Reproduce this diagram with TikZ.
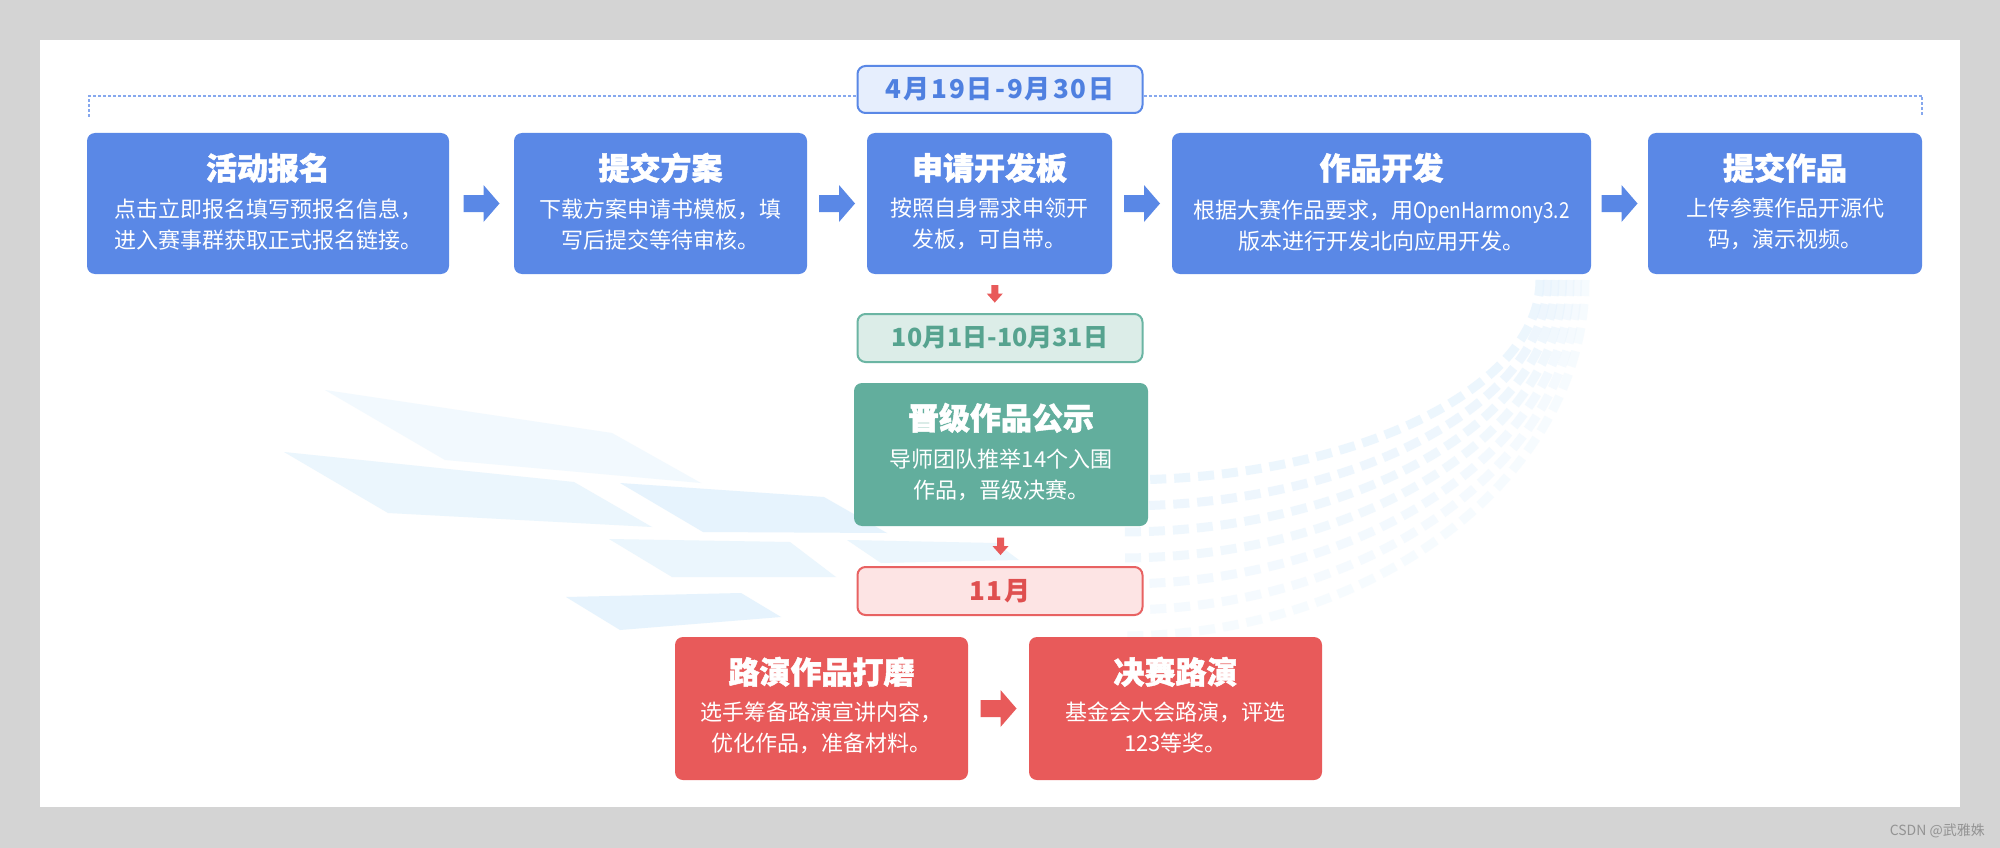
\documentclass[tikz,border=0pt]{standalone}
\usepackage{fontspec}
\setmainfont{Noto Sans CJK SC}
\newfontfamily\datefont{Noto Sans CJK SC}[LetterSpace=8]
\newfontfamily\datefontB{Noto Sans CJK SC}
\newfontfamily\titlefont{Noto Sans CJK SC}[FakeBold=1.5]
\usetikzlibrary{calc}
\definecolor{bggrey}{HTML}{D4D4D4}
\definecolor{cblue}{HTML}{5A88E6}
\definecolor{cbluefill}{HTML}{E6EEFD}
\definecolor{cbluetext}{HTML}{4F80E0}
\definecolor{cdash}{HTML}{86A8EE}
\definecolor{cgreen}{HTML}{62AE9D}
\definecolor{cgreenfill}{HTML}{DCEDE8}
\definecolor{cgreenline}{HTML}{6BB5A3}
\definecolor{cgreentext}{HTML}{56A38F}
\definecolor{cred}{HTML}{E85A5A}
\definecolor{credfill}{HTML}{FDE4E4}
\definecolor{credline}{HTML}{E86262}
\definecolor{credtext}{HTML}{DF4F4F}
\definecolor{tileA}{HTML}{F2F9FE}
\definecolor{tileB}{HTML}{EBF6FD}
\definecolor{tileC}{HTML}{E6F3FD}
\newcommand\blockarrow[2]{%
  \fill[#1] ([shift={(-18,-8.5)}]#2) -- ([shift={(2,-8.5)}]#2) -- ([shift={(2,-18.5)}]#2) --
    ([shift={(18,0)}]#2) -- ([shift={(2,18.5)}]#2) -- ([shift={(2,8.5)}]#2) --
    ([shift={(-18,8.5)}]#2) -- cycle;}
\newcommand\smalldown[2]{%
  \fill[#1] ([shift={(-3.5,-8.5)}]#2) -- ([shift={(3.5,-8.5)}]#2) -- ([shift={(3.5,0)}]#2) --
    ([shift={(8,0)}]#2) -- ([shift={(0,9)}]#2) -- ([shift={(-8,0)}]#2) --
    ([shift={(-3.5,0)}]#2) -- cycle;}
\tikzset{
  box/.style={rounded corners=8pt, inner sep=0pt, minimum height=141pt},
  bluebox/.style={box, fill=cblue},
  greenbox/.style={box, fill=cgreen, minimum height=143pt},
  redbox/.style={box, fill=cred, minimum height=143pt},
  ttl/.style={text=white, font=\titlefont\fontsize{31}{36}\selectfont\bfseries, inner sep=0pt},
  dsc/.style={text=white, font=\fontsize{22}{31}\selectfont, align=center, inner sep=0pt},
  datebox/.style={rounded corners=8pt, line width=2pt, minimum width=285pt, minimum height=47pt,
    inner sep=0pt, font=\datefont\fontsize{26}{30}\selectfont\bfseries},
  dashline/.style={cdash, line width=2pt, dash pattern=on 3pt off 2pt},
  tile/.style={line width=9pt, dash pattern=on 16pt off 8pt},
}
\begin{document}
\begin{tikzpicture}[x=1pt,y=-1pt]
\useasboundingbox (0,0) rectangle (2000,848);
\fill[bggrey] (0,0) rectangle (2000,848);
\fill[white] (40,40) rectangle (1960,807);

% background decoration (pale tiles)
\fill[tileA] (325,390) -- (612,433) -- (701,483) -- (445,460) -- cycle;
\fill[tileB] (284,452) -- (574,482) -- (652,527) -- (388,513) -- cycle;
\fill[tileC] (620,483) -- (824,497) -- (887,533) -- (703,532) -- cycle;
\fill[tileB] (609,539) -- (790,542) -- (836,577) -- (672,577) -- cycle;
\fill[tileC] (566,597) -- (741,593) -- (781,617) -- (620,630) -- cycle;
\fill[tileB] (847,540) -- (996,543) -- (1019,560) -- (881,563) -- cycle;
\foreach \k in {0,...,6}{
  \pgfmathsetmacro\rx{420+7.5*\k}
  \pgfmathsetmacro\ry{200+26*\k}
  \pgfmathsetmacro\op{0.75-0.07*\k}
  \draw[tile, tileC, opacity=\op]
    (1120+\rx,280) .. controls (1120+\rx,280+0.55*\ry) and (1120+0.55*\rx,280+\ry) .. (1120,280+\ry);
}

% date label 1 and dashed bracket
\node[datebox, draw=cblue, fill=cbluefill, text=cbluetext, minimum height=47pt] (d1) at (1000,89.5) {4月19日-9月30日};
\coordinate (dl) at (89,117);
\coordinate (tl) at (89,96);
\coordinate (dr) at (1922,117);
\coordinate (tr) at (1922,96);
\draw[dashline] (dl) -- (tl) -- (tl -| d1.west);
\draw[dashline] (tr -| d1.east) -- (tr) -- (dr);

% row 1
\node[bluebox, minimum width=362pt] (b1) at (268,203.5) {};
\node[ttl] (b1t) at ([yshift=-35pt]b1.north) {活动报名};
\node[dsc] (b1d) at ([yshift=-91.5pt]b1.north) {点击立即报名填写预报名信息，\\进入赛事群获取正式报名链接。};

\node[bluebox, minimum width=293pt] (b2) at (660.5,203.5) {};
\node[ttl] (b2t) at ([yshift=-35pt]b2.north) {提交方案};
\node[dsc] (b2d) at ([yshift=-91.5pt]b2.north) {下载方案申请书模板，填\\写后提交等待审核。};

\node[bluebox, minimum width=245pt] (b3) at (989.5,203.5) {};
\node[ttl] (b3t) at ([yshift=-35pt]b3.north) {申请开发板};
\node[dsc] (b3d) at ([yshift=-91.5pt]b3.north) {按照自身需求申领开\\发板，可自带。};

\node[bluebox, minimum width=419pt] (b4) at (1381.5,203.5) {};
\node[ttl] (b4t) at ([yshift=-35pt]b4.north) {作品开发};
\node[dsc] (b4d) at ([yshift=-93pt]b4.north) {根据大赛作品要求，用\scalebox{0.86}[1]{OpenHarmony3.2}\\版本进行开发北向应用开发。};

\node[bluebox, minimum width=274pt] (b5) at (1785,203.5) {};
\node[ttl] (b5t) at ([yshift=-35pt]b5.north) {提交作品};
\node[dsc] (b5d) at ([yshift=-91.5pt]b5.north) {上传参赛作品开源代\\码，演示视频。};

\path ($(b1.east)!0.5!(b2.west)$) coordinate (a1);
\path ($(b2.east)!0.5!(b3.west)$) coordinate (a2);
\path ($(b3.east)!0.5!(b4.west)$) coordinate (a3);
\path ($(b4.east)!0.5!(b5.west)$) coordinate (a4);
\blockarrow{cblue}{a1}
\blockarrow{cblue}{a2}
\blockarrow{cblue}{a3}
\blockarrow{cblue}{a4}

% green stage
\node[datebox, draw=cgreenline, fill=cgreenfill, text=cgreentext, minimum height=48pt,
  font=\datefontB\fontsize{25}{30}\selectfont\bfseries] (d2) at (1000,338) {10月1日-10月31日};
\path ($(b3.south)!0.5!(d2.north)$) coordinate (a5);
\smalldown{cred}{a5}

\node[greenbox, minimum width=294pt] (g1) at (1001,454.5) {};
\node[ttl] (g1t) at ([yshift=-35pt]g1.north) {晋级作品公示};
\node[dsc] (g1d) at ([yshift=-92pt]g1.north) {导师团队推举14个入围\\作品，晋级决赛。};

% red stage
\node[datebox, draw=credline, fill=credfill, text=credtext, minimum height=48pt] (d3) at (1000,591) {11月};
\path ($(g1.south)!0.5!(d3.north)$) coordinate (a6);
\smalldown{cred}{a6}

\node[redbox, minimum width=293pt] (r1) at (821.5,708.5) {};
\node[ttl] (r1t) at ([yshift=-35pt]r1.north) {路演作品打磨};
\node[dsc] (r1d) at ([yshift=-91pt]r1.north) {选手筹备路演宣讲内容，\\优化作品，准备材料。};

\node[redbox, minimum width=293pt] (r2) at (1175.5,708.5) {};
\node[ttl] (r2t) at ([yshift=-35pt]r2.north) {决赛路演};
\node[dsc] (r2d) at ([yshift=-91pt]r2.north) {基金会大会路演，评选\\123等奖。};

\path ($(r1.east)!0.5!(r2.west)$) coordinate (a7);
\blockarrow{cred}{a7}

% watermark
\node[anchor=east, text=gray!85, font=\fontsize{14}{16}\selectfont, inner sep=0pt] (wm) at (1985,831) {CSDN @武雅姝};
\end{tikzpicture}
\end{document}
